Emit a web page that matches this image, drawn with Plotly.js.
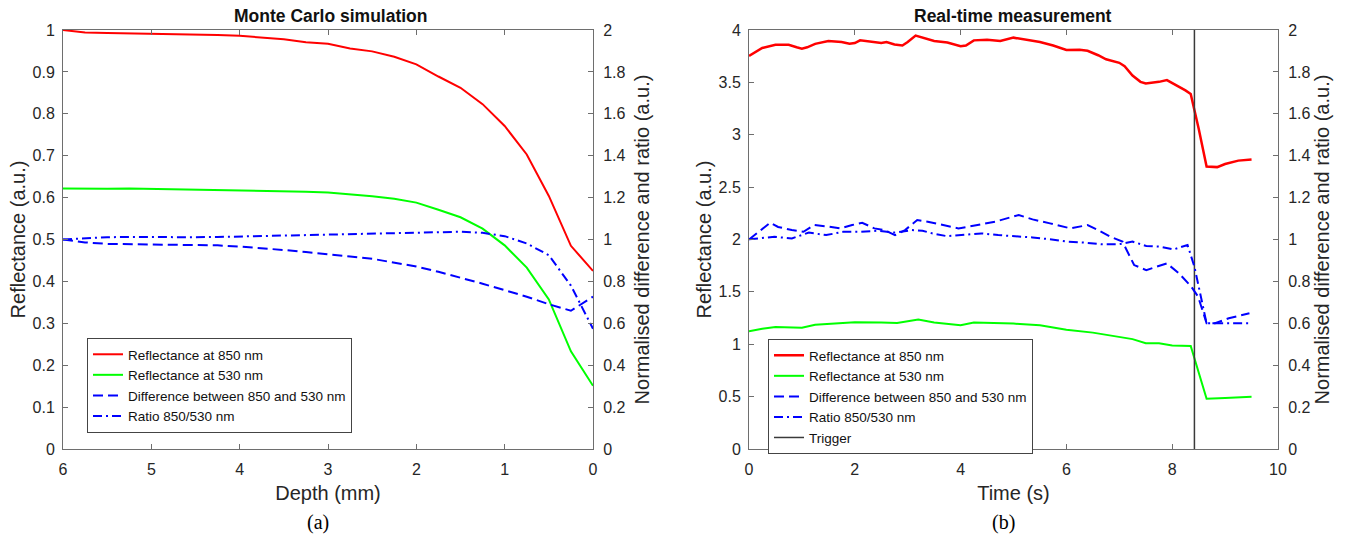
<!DOCTYPE html>
<html><head><meta charset="utf-8">
<script src="https://cdn.plot.ly/plotly-3.0.1.min.js"></script>
<style>html,body{margin:0;padding:0;background:#fff}#chart{width:1347px;height:540px}</style>
</head><body><div id="chart"></div>
<script>
// ---------- (a) Monte Carlo simulation ----------
const depthMm = [6, 5.75, 5.5, 5.25, 5, 4.75, 4.5, 4.25, 4, 3.75, 3.5, 3.25, 3, 2.75, 2.5, 2.25, 2, 1.75, 1.5, 1.25, 1, 0.75, 0.5, 0.25, 0];
const mcRefl850 = [1.0, 0.994, 0.993, 0.992, 0.992, 0.990, 0.990, 0.988, 0.986, 0.982, 0.978, 0.971, 0.967, 0.956, 0.949, 0.936, 0.918, 0.889, 0.862, 0.823, 0.771, 0.703, 0.604, 0.485, 0.425];
const mcRefl530 = [0.622, 0.621, 0.621, 0.622, 0.621, 0.620, 0.620, 0.619, 0.618, 0.617, 0.615, 0.614, 0.612, 0.608, 0.603, 0.597, 0.588, 0.571, 0.553, 0.526, 0.486, 0.433, 0.357, 0.233, 0.151];
const mcDiff = [1.0, 0.986, 0.979, 0.978, 0.978, 0.977, 0.976, 0.972, 0.966, 0.959, 0.950, 0.940, 0.928, 0.919, 0.908, 0.890, 0.871, 0.846, 0.819, 0.789, 0.758, 0.727, 0.691, 0.660, 0.727];
const mcRatio = [1.0, 1.006, 1.011, 1.012, 1.011, 1.011, 1.011, 1.012, 1.014, 1.018, 1.021, 1.023, 1.024, 1.026, 1.027, 1.030, 1.032, 1.035, 1.037, 1.032, 1.016, 0.981, 0.925, 0.780, 0.574];

// ---------- (b) Real-time measurement ----------
const timeRed = [0, 0.1, 0.25, 0.5, 0.75, 0.9, 1.0, 1.1, 1.25, 1.5, 1.75, 1.9, 2.0, 2.1, 2.25, 2.5, 2.6, 2.75, 2.9, 3.0, 3.15, 3.25, 3.5, 3.75, 4.0, 4.1, 4.25, 4.5, 4.75, 5.0, 5.25, 5.5, 5.75, 6.0, 6.25, 6.4, 6.6, 6.75, 7.0, 7.1, 7.25, 7.4, 7.5, 7.75, 7.9, 8.0, 8.25, 8.35, 8.5, 8.65, 8.85, 9.0, 9.25, 9.5];
const rtRefl850 = [3.753, 3.786, 3.829, 3.858, 3.858, 3.835, 3.822, 3.835, 3.868, 3.895, 3.885, 3.868, 3.875, 3.901, 3.891, 3.875, 3.885, 3.862, 3.852, 3.885, 3.947, 3.934, 3.895, 3.881, 3.845, 3.852, 3.901, 3.908, 3.895, 3.927, 3.908, 3.885, 3.852, 3.809, 3.812, 3.802, 3.759, 3.720, 3.687, 3.654, 3.565, 3.505, 3.489, 3.505, 3.522, 3.495, 3.423, 3.390, 3.060, 2.697, 2.691, 2.721, 2.753, 2.763];
const timeGreen = [0, 0.25, 0.5, 0.75, 1.0, 1.25, 1.5, 2.0, 2.5, 2.8, 3.0, 3.2, 3.5, 3.75, 4.0, 4.25, 4.5, 5.0, 5.5, 6.0, 6.5, 7.0, 7.25, 7.5, 7.75, 8.0, 8.35, 8.65, 8.8, 9.0, 9.5];
const rtRefl530 = [1.124, 1.148, 1.164, 1.164, 1.157, 1.187, 1.197, 1.210, 1.207, 1.204, 1.220, 1.237, 1.207, 1.197, 1.181, 1.207, 1.204, 1.197, 1.181, 1.138, 1.111, 1.072, 1.049, 1.009, 1.009, 0.989, 0.983, 0.480, 0.485, 0.488, 0.498];
const timeDiff = [0, 0.4, 0.55, 0.81, 1.03, 1.23, 1.52, 1.72, 1.95, 2.14, 2.37, 2.56, 2.76, 2.95, 3.18, 3.38, 3.67, 3.96, 4.32, 4.65, 5.1, 5.36, 5.69, 6.08, 6.4, 6.6, 6.83, 7.06, 7.28, 7.51, 7.9, 8.13, 8.36, 8.49, 8.65, 8.81, 9.07, 9.46];
const rtDiff = [1.0, 1.08, 1.06, 1.045, 1.037, 1.069, 1.061, 1.053, 1.069, 1.08, 1.053, 1.045, 1.021, 1.045, 1.093, 1.085, 1.069, 1.053, 1.069, 1.085, 1.117, 1.096, 1.077, 1.053, 1.069, 1.045, 1.013, 0.99, 0.878, 0.854, 0.886, 0.838, 0.775, 0.727, 0.6, 0.6, 0.624, 0.648];
const timeRatio = [0, 0.48, 0.81, 1.13, 1.46, 1.78, 2.11, 2.43, 2.76, 3.08, 3.28, 3.47, 3.74, 4.06, 4.39, 4.71, 5.04, 5.36, 5.69, 6.01, 6.34, 6.66, 6.99, 7.25, 7.51, 7.77, 8.03, 8.29, 8.42, 8.55, 8.65, 8.94, 9.46];
const rtRatio = [1.001, 1.013, 1.005, 1.033, 1.021, 1.037, 1.037, 1.042, 1.033, 1.045, 1.042, 1.029, 1.016, 1.021, 1.029, 1.021, 1.016, 1.010, 1.001, 0.990, 0.985, 0.977, 0.977, 0.990, 0.969, 0.966, 0.953, 0.974, 0.870, 0.711, 0.600, 0.600, 0.600];
const triggerTime = [8.42, 8.42];
const triggerLevel = [0, 4];

const seriesNames = ['Reflectance at 850 nm', 'Reflectance at 530 nm', 'Difference between 850 and 530 nm', 'Ratio 850/530 nm', 'Trigger'];

const RED = '#ff0000', GREEN = '#00ff00', BLUE = '#0000ff';
const DASH = '10px,5px', DASHDOT = '9px,4px,2px,4px';

const traces = [
  {x: depthMm, y: mcRefl850, xaxis: 'x', yaxis: 'y', name: seriesNames[0], mode: 'lines', line: {color: RED, width: 2}, legend: 'legend'},
  {x: depthMm, y: mcRefl530, xaxis: 'x', yaxis: 'y', name: seriesNames[1], mode: 'lines', line: {color: GREEN, width: 2}, legend: 'legend'},
  {x: depthMm, y: mcDiff, xaxis: 'x', yaxis: 'y2', name: seriesNames[2], mode: 'lines', line: {color: BLUE, width: 2, dash: DASH}, legend: 'legend'},
  {x: depthMm, y: mcRatio, xaxis: 'x', yaxis: 'y2', name: seriesNames[3], mode: 'lines', line: {color: BLUE, width: 2, dash: DASHDOT}, legend: 'legend'},

  {x: timeRed, y: rtRefl850, xaxis: 'x2', yaxis: 'y3', name: seriesNames[0], mode: 'lines', line: {color: RED, width: 2.5}, legend: 'legend2'},
  {x: timeGreen, y: rtRefl530, xaxis: 'x2', yaxis: 'y3', name: seriesNames[1], mode: 'lines', line: {color: GREEN, width: 2}, legend: 'legend2'},
  {x: timeDiff, y: rtDiff, xaxis: 'x2', yaxis: 'y4', name: seriesNames[2], mode: 'lines', line: {color: BLUE, width: 2, dash: DASH}, legend: 'legend2'},
  {x: timeRatio, y: rtRatio, xaxis: 'x2', yaxis: 'y4', name: seriesNames[3], mode: 'lines', line: {color: BLUE, width: 2, dash: DASHDOT}, legend: 'legend2'},
  {x: triggerTime, y: triggerLevel, xaxis: 'x2', yaxis: 'y3', name: seriesNames[4], mode: 'lines', line: {color: '#3a3a3a', width: 1.5}, legend: 'legend2'}
];

const FONT = 'Liberation Sans, Arial, sans-serif';
const AX = '#6e6e6e';
const tickFont = {family: FONT, size: 16, color: '#262626'};
const titleFont = {family: FONT, size: 20, color: '#262626'};
const L = 0, T = 30, B = 91, W = 1347, H = 540;
const px2x = p => p / W;
const py2y = p => (H - B - p) / (H - T - B);

function xAxis(domain, range, dtick, title) {
  return {domain: domain, range: range, dtick: dtick, tick0: 0, showline: true, linecolor: AX, linewidth: 1,
    mirror: 'ticks', ticks: 'inside', ticklen: 5, tickcolor: AX, showgrid: false, zeroline: false,
    tickfont: tickFont, ticklabelstandoff: 6, fixedrange: true,
    title: {text: title, font: titleFont, standoff: 8}};
}
function yAxis(range, dtick, title, standoff, extra) {
  return Object.assign({range: range, dtick: dtick, tick0: 0, showline: true, linecolor: AX, linewidth: 1,
    ticks: 'inside', ticklen: 5, tickcolor: AX, showgrid: false, zeroline: false, tickfont: tickFont,
    fixedrange: true, title: {text: title, font: titleFont, standoff: standoff}}, extra);
}

const legendFont = {family: FONT, size: 13.5, color: '#111'};

const layout = {
  width: W, height: H,
  margin: {l: L, r: 0, t: T, b: B},
  paper_bgcolor: '#ffffff', plot_bgcolor: '#ffffff',
  font: {family: FONT, color: '#262626'},
  showlegend: true,
  xaxis: xAxis([px2x(63), px2x(593)], [6, 0], 1, 'Depth (mm)'),
  yaxis: yAxis([0, 1], 0.1, 'Reflectance (a.u.)', 1, {anchor: 'x', ticklabelstandoff: 4}),
  yaxis2: yAxis([0, 2], 0.2, 'Normalised difference and ratio (a.u.)', 10, {anchor: 'x', overlaying: 'y', side: 'right', ticklabelstandoff: 6}),
  xaxis2: xAxis([px2x(749), px2x(1278)], [0, 10], 2, 'Time (s)'),
  yaxis3: yAxis([0, 4], 0.5, 'Reflectance (a.u.)', 1, {anchor: 'x2', ticklabelstandoff: 4}),
  yaxis4: yAxis([0, 2], 0.2, 'Normalised difference and ratio (a.u.)', 5, {anchor: 'x2', overlaying: 'y3', side: 'right', ticklabelstandoff: 6}),
  legend: {x: px2x(87), y: py2y(338), xanchor: 'left', yanchor: 'top', bgcolor: '#ffffff', bordercolor: '#444', borderwidth: 1,
    font: legendFont, itemwidth: 30, tracegroupgap: 0},
  legend2: {x: px2x(768), y: py2y(339), xanchor: 'left', yanchor: 'top', bgcolor: '#ffffff', bordercolor: '#444', borderwidth: 1,
    font: legendFont, itemwidth: 30, tracegroupgap: 0},
  annotations: [
    {text: '<b>Monte Carlo simulation</b>', xref: 'paper', yref: 'paper', x: px2x(330), y: py2y(16), xanchor: 'center', yanchor: 'middle', showarrow: false, font: {family: FONT, size: 17.5, color: '#111'}},
    {text: '<b>Real-time measurement</b>', xref: 'paper', yref: 'paper', x: px2x(1013), y: py2y(16), xanchor: 'center', yanchor: 'middle', showarrow: false, font: {family: FONT, size: 17.5, color: '#111'}},
    {text: '(a)', xref: 'paper', yref: 'paper', x: px2x(318), y: py2y(522), xanchor: 'center', yanchor: 'middle', showarrow: false, font: {family: 'Liberation Serif, Times New Roman, serif', size: 20, color: '#000'}},
    {text: '(b)', xref: 'paper', yref: 'paper', x: px2x(1003), y: py2y(522), xanchor: 'center', yanchor: 'middle', showarrow: false, font: {family: 'Liberation Serif, Times New Roman, serif', size: 20, color: '#000'}}
  ]
};

Plotly.newPlot('chart', traces, layout, {displayModeBar: false, staticPlot: true});
</script>
</body></html>
